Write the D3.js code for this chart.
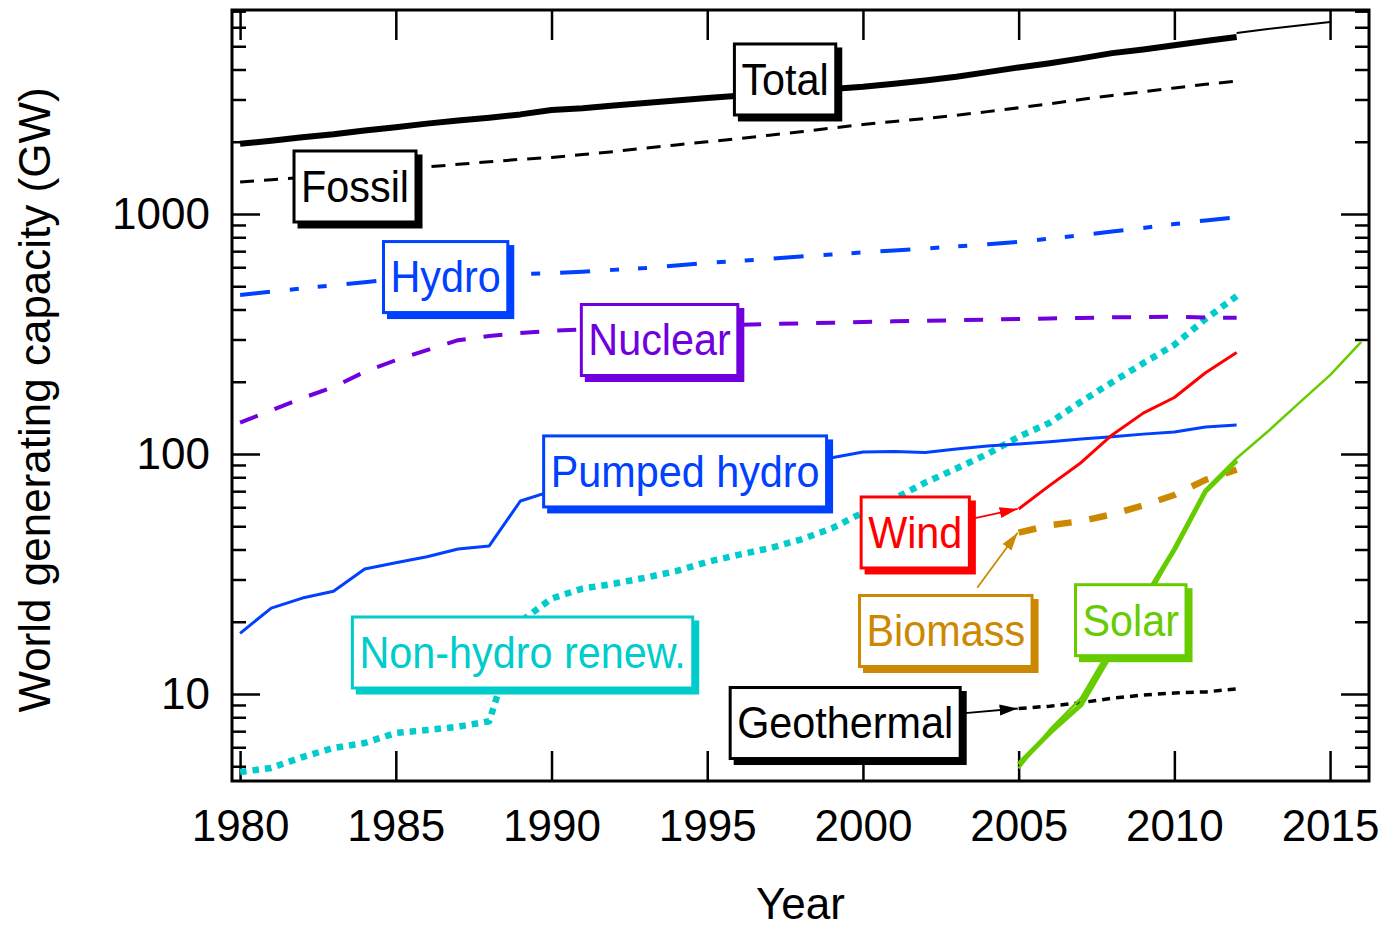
<!DOCTYPE html>
<html lang="en">
<head>
<meta charset="UTF-8">
<title>World generating capacity</title>
<script src="https://cdn.jsdelivr.net/npm/d3@7"></script>
<style>
  body { margin: 0; background: #fff; }
  svg { display: block; font-family: "Liberation Sans", Arial, sans-serif; }
  .tick text { font-size: 44px; fill: #000; font-family: "Liberation Sans", Arial, sans-serif; }
</style>
</head>
<body>
<svg id="chart" width="1382" height="932"></svg>
<script>
// ---- data (GW) ----
const years = [1980,1981,1982,1983,1984,1985,1986,1987,1988,1989,1990,1991,1992,1993,1994,1995,1996,
               1997,1998,1999,2000,2001,2002,2003,2004,2005,2006,2007,2008,2009,2010,2011,2012];
const yearsRecent = [2005,2006,2007,2008,2009,2010,2011,2012];
const yearsSolarNew = [2005,2006,2007,2008,2009,2010,2011,2012,2013,2014,2015,2016];
const yearsTotalNew = [2012,2013,2014,2015];

const total = [1960,2020,2090,2150,2230,2300,2380,2450,2520,2600,2710,2760,2830,2900,2970,3040,3110,
               3190,3260,3320,3390,3490,3600,3730,3900,4080,4250,4450,4680,4850,5050,5260,5460];
const totalNew = [5675,5900,6100,6310];
const fossil = [1360,1390,1420,1450,1490,1530,1570,1610,1650,1690,1720,1770,1820,1880,1940,2000,2060,
                2130,2200,2280,2360,2430,2500,2580,2670,2770,2880,3000,3120,3230,3350,3470,3580];
const hydro = [460,475,490,505,520,537,545,552,558,562,567,575,585,595,610,625,638,
               650,665,678,692,705,718,733,748,765,790,815,845,875,908,940,970];
const nuclear = [135,152,171,190,220,246,271,298,310,319,326,330,333,336,339,342,345,
                 348,350,352,355,357,359,361,363,365,367,369,371,372,373,370,370];
const pumpedHydro = [17.9,22.8,25.1,26.8,33.2,35.2,37.3,40.2,41.4,63.7,70,73,76,79,82,85,88,
                     91,94,96.5,102,102.5,101.5,105,108,110,112.5,115.5,118,121,123.5,129.5,132];
const nonHydro = [4.73,4.92,5.46,5.96,6.25,6.88,7.08,7.3,7.7,20,25,27.5,28.8,30.5,32.5,35.5,38,
                  40.5,44,49,57,65,76,87,100,118,135,165,199,239,285,365,455];
const wind = [59,74,92,120,148,172,218,265];
const biomass = [47,50.5,52.5,56,61,67.5,78,86];
const geothermal = [8.7,8.9,9.2,9.6,9.9,10.1,10.2,10.5];
const solarOld = [5.1,6.9,9.0,15,24.5,40,70,94];
const solarNew = [4.9,7.1,9.6,16,23,40,71,96,124,163,213,293];

const xTicks = [1980,1985,1990,1995,2000,2005,2010,2015];
const yTicks = [10,100,1000];
const yMinor = [5,6,7,8,9,20,30,40,50,60,70,80,90,200,300,400,500,600,700,800,900,
                2000,3000,4000,5000,6000,7000];

// ---- colours ----
const BLACK = "#000000", BLUE = "#0040ff", PURPLE = "#7000dd", CYAN = "#00cccc",
      RED = "#ff0000", BROWN = "#cc8800", GREEN = "#66cc00";

const svg = d3.select("#chart");
const plot = {left: 232, right: 1369, top: 10, bottom: 781};

const x = d3.scaleLinear().domain([1979.74, 2016.25]).range([plot.left, plot.right]);
const y = d3.scaleLog().domain([4.34, 7079]).range([plot.bottom, plot.top]);

svg.append("defs").append("clipPath").attr("id", "clip")
  .append("rect")
  .attr("x", plot.left).attr("y", plot.top)
  .attr("width", plot.right - plot.left).attr("height", plot.bottom - plot.top);

// ---- axes ----
function styleAxis(g) {
  g.attr("font-size", null).attr("font-family", null);
  g.select(".domain").remove();
  g.selectAll(".tick line").attr("stroke", "#000").attr("stroke-width", 2.5);
}

svg.append("g").attr("transform", `translate(0,${plot.bottom})`)
  .call(d3.axisBottom(x).tickValues(xTicks).tickFormat(d3.format("d")).tickSize(-30).tickPadding(29))
  .call(styleAxis);
svg.append("g").attr("transform", `translate(0,${plot.top})`)
  .call(d3.axisTop(x).tickValues(xTicks).tickFormat("").tickSize(-30))
  .call(styleAxis);
svg.append("g").attr("transform", `translate(${plot.left},0)`)
  .call(d3.axisLeft(y).tickValues(yTicks).tickFormat(d3.format("d")).tickSize(-28).tickPadding(22))
  .call(styleAxis);
svg.append("g").attr("transform", `translate(${plot.left},0)`)
  .call(d3.axisLeft(y).tickValues(yMinor).tickFormat("").tickSize(-14))
  .call(styleAxis);
svg.append("g").attr("transform", `translate(${plot.right},0)`)
  .call(d3.axisRight(y).tickValues(yTicks).tickFormat("").tickSize(-28))
  .call(styleAxis);
svg.append("g").attr("transform", `translate(${plot.right},0)`)
  .call(d3.axisRight(y).tickValues(yMinor).tickFormat("").tickSize(-14))
  .call(styleAxis);

svg.append("rect")
  .attr("x", plot.left).attr("y", plot.top)
  .attr("width", plot.right - plot.left).attr("height", plot.bottom - plot.top)
  .attr("fill", "none").attr("stroke", "#000").attr("stroke-width", 3);

// axis titles
svg.append("text")
  .attr("x", (plot.left + plot.right) / 2).attr("y", 919)
  .attr("text-anchor", "middle").attr("font-size", 44)
  .text("Year");
svg.append("text")
  .attr("transform", "translate(50,400) rotate(-90)")
  .attr("text-anchor", "middle").attr("font-size", 44)
  .text("World generating capacity (GW)");

// ---- series ----
const series = [
  {yrs: years, vals: nonHydro, color: CYAN, width: 6.5, dash: "6.5,6"},
  {yrs: years, vals: total, color: BLACK, width: 6, dash: null},
  {yrs: yearsTotalNew, vals: totalNew, color: BLACK, width: 2, dash: null},
  {yrs: years, vals: fossil, color: BLACK, width: 3, dash: "14,10"},
  {yrs: years, vals: hydro, color: BLUE, width: 4, dash: "30,20,9,19,9,20"},
  {yrs: years, vals: nuclear, color: PURPLE, width: 4, dash: "19,18"},
  {yrs: years, vals: pumpedHydro, color: BLUE, width: 3, dash: null},
  {yrs: yearsRecent, vals: wind, color: RED, width: 3, dash: null},
  {yrs: yearsRecent, vals: biomass, color: BROWN, width: 6.5, dash: "18,18"},
  {yrs: yearsRecent, vals: geothermal, color: BLACK, width: 3.5, dash: "8,6"},
  {yrs: yearsRecent, vals: solarOld, color: GREEN, width: 5, dash: null},
  {yrs: yearsSolarNew, vals: solarNew, color: GREEN, width: 2.5, dash: null}
];

const line = d3.line().x(d => x(d[0])).y(d => y(d[1]));
const lines = svg.append("g").attr("clip-path", "url(#clip)");
series.forEach(s => {
  lines.append("path")
    .datum(s.yrs.map((yr, i) => [yr, s.vals[i]]))
    .attr("d", line)
    .attr("fill", "none")
    .attr("stroke", s.color)
    .attr("stroke-width", s.width)
    .attr("stroke-dasharray", s.dash)
    .attr("stroke-linejoin", "round");
});

// ---- boxed labels ----
const labels = [
  {text: "Total", year: 1997.5, value: 3635, color: BLACK},
  {text: "Fossil", year: 1983.69, value: 1302, color: BLACK},
  {text: "Hydro", year: 1986.6, value: 546, color: BLUE},
  {text: "Nuclear", year: 1993.47, value: 298.5, color: PURPLE},
  {text: "Pumped hydro", year: 1994.29, value: 84.6, color: BLUE},
  {text: "Non-hydro renew.", year: 1989.07, value: 14.89, color: CYAN},
  {text: "Wind", year: 2001.68, value: 47.1, color: RED},
  {text: "Biomass", year: 2002.66, value: 18.3, color: BROWN},
  {text: "Geothermal", year: 1999.43, value: 7.57, color: BLACK},
  {text: "Solar", year: 2008.6, value: 20.3, color: GREEN}
];

const boxH = 71, shadow = 5, squeeze = 0.94;
labels.forEach(l => {
  const cx = x(l.year), cy = y(l.value);
  const g = svg.append("g");
  const t = g.append("text")
    .attr("transform", `translate(${cx},${cy}) scale(${squeeze},1)`)
    .attr("text-anchor", "middle").attr("dy", "0.35em")
    .attr("font-size", 44).attr("fill", l.color)
    .text(l.text);
  const w = t.node().getBBox().width * squeeze + 14;
  g.insert("rect", "text")
    .attr("x", cx - w / 2 + shadow).attr("y", cy - boxH / 2 + shadow)
    .attr("width", w).attr("height", boxH)
    .attr("fill", l.color).attr("stroke", l.color).attr("stroke-width", 3);
  g.insert("rect", "text")
    .attr("x", cx - w / 2).attr("y", cy - boxH / 2)
    .attr("width", w).attr("height", boxH)
    .attr("fill", "#fff").attr("stroke", l.color).attr("stroke-width", 3);
});

// ---- arrows from labels to series starts ----
const arrows = [
  {from: [2003.6, 54.1], to: [yearsRecent[0], wind[0]], color: RED},
  {from: [2003.67, 27.7], to: [yearsRecent[0], biomass[0]], color: BROWN},
  {from: [2003.28, 8.33], to: [yearsRecent[0], geothermal[0]], color: BLACK}
];

const defs = svg.select("defs");
arrows.forEach((a, i) => {
  defs.append("marker")
    .attr("id", "head" + i)
    .attr("markerUnits", "userSpaceOnUse")
    .attr("viewBox", "0 -7 20 14")
    .attr("markerWidth", 20).attr("markerHeight", 14)
    .attr("refX", 18).attr("refY", 0)
    .attr("orient", "auto")
    .append("path").attr("d", "M0,-5.5L18,0L0,5.5Z").attr("fill", a.color);
  svg.append("line")
    .attr("x1", x(a.from[0])).attr("y1", y(a.from[1]))
    .attr("x2", x(a.to[0]) - 1).attr("y2", y(a.to[1]))
    .attr("stroke", a.color).attr("stroke-width", 1.8)
    .attr("marker-end", `url(#head${i})`);
});
</script>
</body>
</html>
